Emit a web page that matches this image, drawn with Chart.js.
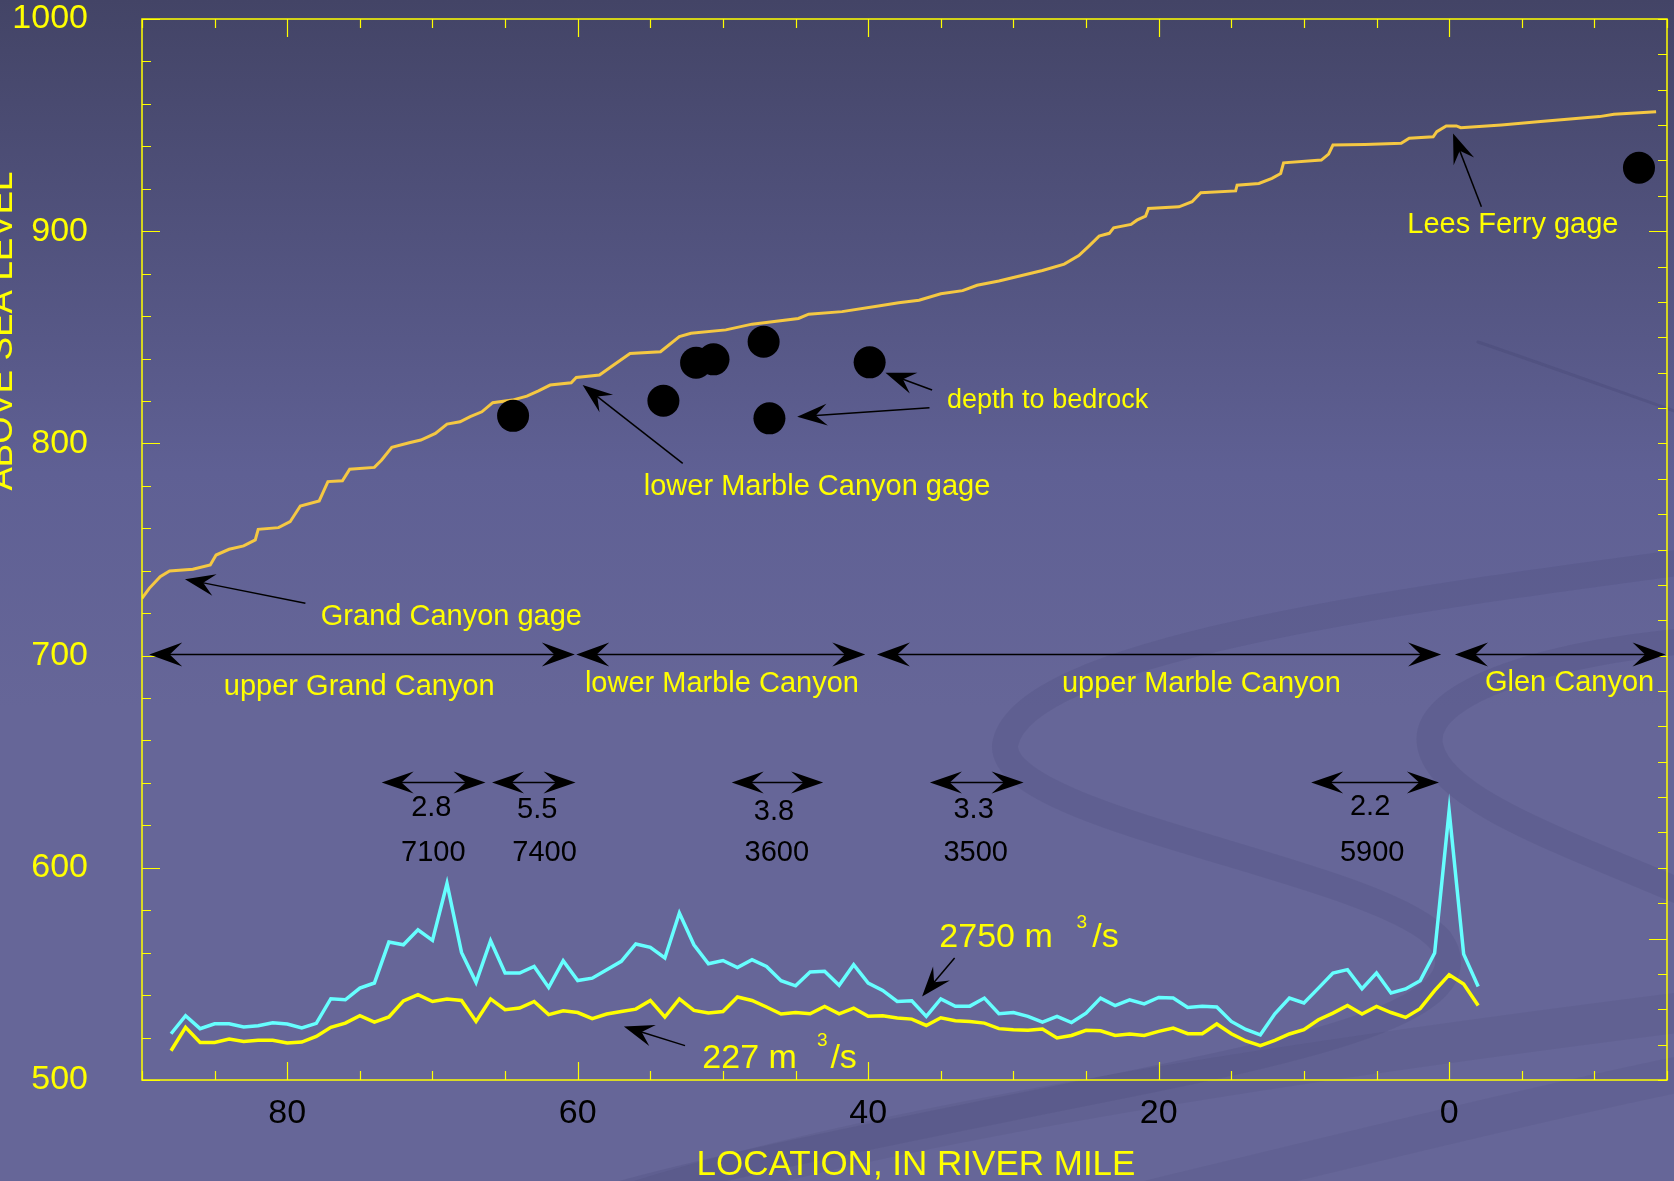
<!DOCTYPE html>
<html>
<head>
<meta charset="utf-8">
<script src="https://cdn.jsdelivr.net/npm/chart.js@4/dist/chart.umd.min.js"></script>
<style>
  html, body { margin: 0; padding: 0; background: #5c5d8e; }
  canvas { display: block; }
</style>
</head>
<body>
<canvas id="profile" width="1674" height="1181"></canvas>
<script>
// ---- Water-surface profile (river mile, elevation in m) ----
const profileMile = [90.0, 89.5, 88.75, 88.1, 86.5, 85.3, 84.9, 84.0, 83.0, 82.2, 82.0, 80.6, 79.8, 79.1, 77.8,
  77.2, 76.2, 75.7, 74.0, 73.5, 72.8, 71.6, 70.8, 69.8, 69.0, 68.1, 67.4, 66.6, 65.85, 64.5, 63.5, 62.7, 61.9,
  60.45, 60.1, 58.5, 57.7, 56.4, 54.3, 53.0, 52.2, 49.8, 48.0, 44.8, 44.1, 41.8, 39.3, 37.9, 36.5, 35.0, 33.5,
  32.5, 31.0, 29.5, 28.0, 26.5, 25.5, 24.8, 24.1, 23.4, 23.1, 21.9, 21.5, 20.9, 20.7, 18.6, 17.7, 17.1, 14.7,
  14.6, 13.1, 12.2, 11.6, 11.4, 8.8, 8.3, 8.0, 5.8, 3.3, 2.75, 1.1, 0.85, 0.2, -0.5, -0.8, -3.6, -6.1, -10.35,
  -11.35, -14.25];
const profileElev = [727.0, 731.7, 737.2, 739.9, 740.7, 742.7, 747.4, 750.1, 751.7, 754.5, 759.5, 760.3, 763.1,
  770.5, 772.9, 782.0, 782.4, 787.8, 788.7, 792.2, 798.2, 800.3, 801.6, 804.7, 809.1, 810.2, 812.6, 814.9, 819.2,
  820.4, 822.3, 824.8, 827.5, 828.6, 831.1, 832.2, 836.1, 842.4, 843.2, 850.3, 851.9, 853.5, 856.2, 858.9, 860.9,
  862.1, 864.7, 866.3, 867.5, 870.5, 872.0, 874.5, 876.5, 879.0, 881.5, 884.5, 888.5, 893.0, 897.7, 899.0, 901.6,
  903.2, 905.2, 907.1, 910.7, 911.5, 913.9, 918.1, 919.0, 921.7, 922.5, 924.9, 927.2, 932.2, 933.5, 936.3, 940.6,
  940.9, 941.4, 943.8, 944.5, 946.9, 949.6, 949.6, 948.8, 950.1, 951.6, 954.0, 955.1, 956.3];

// ---- Depth to bedrock (river mile, elevation in m) ----
const bedrockMile = [64.45, 54.1, 51.85, 50.65, 47.2, 46.8, 39.9, -13.07];
const bedrockElev = [813.0, 820.1, 838.0, 839.6, 847.9, 811.8, 838.2, 929.9];

// ---- Bed elevation at two discharges, one value per river mile ----
const flowMile = [88, 87, 86, 85, 84, 83, 82, 81, 80, 79, 78, 77, 76, 75, 74, 73, 72, 71, 70, 69, 68, 67, 66, 65,
  64, 63, 62, 61, 60, 59, 58, 57, 56, 55, 54, 53, 52, 51, 50, 49, 48, 47, 46, 45, 44, 43, 42, 41, 40, 39, 38, 37,
  36, 35, 34, 33, 32, 31, 30, 29, 28, 27, 26, 25, 24, 23, 22, 21, 20, 19, 18, 17, 16, 15, 14, 13, 12, 11, 10, 9,
  8, 7, 6, 5, 4, 3, 2, 1, 0, -1, -2];
const flow2750 = [521.8, 530.3, 524.2, 526.5, 526.5, 525.0, 525.6, 527.0, 526.4, 524.5, 526.7, 538.3, 537.8, 543.3,
  545.7, 565.0, 563.7, 570.8, 565.8, 592.6, 560.1, 546.0, 565.6, 550.4, 550.4, 553.5, 543.6, 556.2, 546.9, 548.0,
  552.0, 555.9, 564.1, 562.5, 557.5, 578.7, 563.7, 554.8, 556.3, 553.0, 556.7, 553.5, 546.8, 544.4, 550.9, 551.2,
  544.6, 554.3, 545.7, 542.2, 537.0, 537.3, 530.0, 538.2, 534.7, 534.8, 538.6, 531.2, 531.8, 530.0, 527.3, 530.0,
  527.1, 531.5, 538.6, 535.1, 537.8, 535.9, 538.9, 538.6, 534.2, 534.7, 534.4, 527.6, 523.8, 521.3, 531.2, 538.6,
  536.3, 543.3, 550.4, 552.0, 543.0, 550.4, 541.0, 542.9, 546.8, 559.8, 627.0, 559.3, 544.1];
const flow227 = [513.8, 524.8, 517.7, 517.7, 519.3, 518.2, 518.7, 518.7, 517.4, 517.9, 520.5, 524.8, 526.8, 530.3,
  527.3, 529.7, 537.3, 540.2, 537.0, 538.2, 537.5, 527.6, 538.2, 533.1, 533.9, 537.0, 530.8, 532.6, 531.8, 528.9,
  531.1, 532.3, 533.4, 537.5, 529.7, 538.2, 532.8, 531.6, 532.3, 539.1, 537.5, 534.4, 531.1, 531.8, 531.2, 534.7,
  531.2, 533.9, 530.0, 530.3, 529.2, 528.7, 525.7, 529.3, 527.9, 527.6, 526.8, 524.2, 523.7, 523.4, 524.0, 519.8,
  521.0, 523.4, 523.2, 521.0, 521.7, 521.0, 522.9, 524.5, 521.8, 521.8, 526.4, 521.8, 518.4, 516.2, 518.7, 521.7,
  523.7, 528.4, 531.5, 535.1, 531.1, 534.7, 531.8, 529.5, 533.6, 542.1, 549.6, 545.2, 535.1];

// ---- Reaches and measured sub-reaches (river miles) ----
const reachNames = ['upper Grand Canyon', 'lower Marble Canyon', 'upper Marble Canyon', 'Glen Canyon'];
const reachStart = [89.5, 60.1, 39.4, -0.4];
const reachEnd = [60.2, 40.2, 0.55, -14.9];
const subStart = [73.5, 65.9, 49.4, 35.75, 9.5];
const subEnd = [66.35, 60.15, 43.1, 29.3, 0.7];
const subLength = ['2.8', '5.5', '3.8', '3.3', '2.2'];
const subCount = ['7100', '7400', '3600', '3500', '5900'];

// ---- Axis tick labels ----
const xTickLabels = [80, 60, 40, 20, 0];
const yTickLabels = [500, 600, 700, 800, 900, 1000];

const FONT = "'Liberation Sans', Arial, Helvetica, sans-serif";
const YELLOW = '#ffff00';

const toPoints = (xs, ys) => xs.map((x, i) => ({ x: x, y: ys[i] }));

// Slide background: vertical gradient with soft darker swooshes
const backgroundPlugin = {
  id: 'slideBackground',
  beforeDraw(chart) {
    const { ctx, width, height } = chart;
    ctx.save();
    const g = ctx.createLinearGradient(0, 0, 0, height);
    g.addColorStop(0, '#434466');
    g.addColorStop(0.4, '#5f6094');
    g.addColorStop(0.6, '#666698');
    g.addColorStop(1, '#666698');
    ctx.fillStyle = g;
    ctx.fillRect(0, 0, width, height);

    ctx.lineCap = 'round';
    const band = (w, alpha, pts) => {
      ctx.strokeStyle = 'rgba(56, 56, 98, ' + alpha + ')';
      ctx.lineWidth = w;
      ctx.beginPath();
      ctx.moveTo(pts[0], pts[1]);
      for (let i = 2; i < pts.length; i += 6) {
        ctx.bezierCurveTo(pts[i], pts[i + 1], pts[i + 2], pts[i + 3], pts[i + 4], pts[i + 5]);
      }
      ctx.stroke();
    };
    // large S-shaped ribbon
    band(26, 0.13, [1700, 560, 1400, 600, 1020, 650, 1005, 745,
      1000, 820, 1380, 870, 1440, 940, 1490, 1010, 1300, 1050, 1100, 1090,
      900, 1130, 700, 1170, 600, 1200]);
    // loop on the right side
    band(26, 0.13, [1700, 640, 1560, 650, 1420, 690, 1430, 745, 1440, 800, 1560, 840, 1700, 900]);
    // lower diagonal bands
    band(40, 0.1, [640, 1200, 900, 1120, 1300, 1060, 1700, 1010]);
    band(36, 0.09, [1100, 1210, 1350, 1150, 1550, 1100, 1700, 1070]);
    // thin arc near the top right
    band(3, 0.2, [1478, 342, 1560, 370, 1620, 392, 1700, 420]);
    ctx.restore();
  }
};

// Frame on all four sides with inward tick marks
const framePlugin = {
  id: 'frame',
  afterDatasetsDraw(chart) {
    const { ctx, chartArea: a, scales: { x, y } } = chart;
    ctx.save();
    ctx.strokeStyle = YELLOW;
    ctx.lineWidth = 1.5;
    ctx.strokeRect(a.left, a.top, a.right - a.left, a.bottom - a.top);
    ctx.beginPath();
    for (let m = -15; m <= 90; m += 5) {
      const px = Math.round(x.getPixelForValue(m)) + 0.5;
      const len = m % 20 === 0 ? 18 : 9;
      ctx.moveTo(px, a.bottom); ctx.lineTo(px, a.bottom - len);
      ctx.moveTo(px, a.top); ctx.lineTo(px, a.top + len);
    }
    for (let v = 500; v <= 1000; v += 20) {
      const py = Math.round(y.getPixelForValue(v)) + 0.5;
      const len = v % 100 === 0 ? 18 : 9;
      ctx.moveTo(a.left, py); ctx.lineTo(a.left + len, py);
    }
    for (let k = 0; k <= 30; k++) {
      const py = Math.round(y.getPixelForValue(500 + k * 50 / 3)) + 0.5;
      const len = k % 20 === 4 ? 18 : 9;
      ctx.moveTo(a.right, py); ctx.lineTo(a.right - len, py);
    }
    ctx.lineWidth = 1.2;
    ctx.stroke();
    ctx.restore();
  }
};

function arrowHead(ctx, tx, ty, ang, len, half) {
  const c = Math.cos(ang), s = Math.sin(ang);
  const bx = tx - c * len, by = ty - s * len;
  const nx = tx - c * len * 0.62, ny = ty - s * len * 0.62;
  ctx.beginPath();
  ctx.moveTo(tx, ty);
  ctx.lineTo(bx - s * half, by + c * half);
  ctx.lineTo(nx, ny);
  ctx.lineTo(bx + s * half, by - c * half);
  ctx.closePath();
  ctx.fill();
}

function arrow(ctx, x0, y0, x1, y1, len, half) {
  const ang = Math.atan2(y1 - y0, x1 - x0);
  ctx.beginPath();
  ctx.moveTo(x0, y0);
  ctx.lineTo(x1 - Math.cos(ang) * len * 0.5, y1 - Math.sin(ang) * len * 0.5);
  ctx.stroke();
  arrowHead(ctx, x1, y1, ang, len, half);
}

function doubleArrow(ctx, x0, x1, yy, len, half) {
  ctx.beginPath();
  ctx.moveTo(x0 + len * 0.5, yy);
  ctx.lineTo(x1 - len * 0.5, yy);
  ctx.stroke();
  arrowHead(ctx, x0, yy, Math.PI, len, half);
  arrowHead(ctx, x1, yy, 0, len, half);
}

// Callout texts and arrows, positioned in data units (mile, elevation)
const callouts = [
  { text: 'Lees Ferry gage', m: 2.88, e: 899.1, size: 29, from: [-2.22, 911.5], to: [-0.27, 946.1] },
  { text: 'Grand Canyon gage', m: 77.69, e: 714.5, size: 29, from: [78.75, 724.7], to: [87.04, 736.0] },
  { text: 'lower Marble Canyon gage', m: 55.45, e: 775.7, size: 29, from: [52.77, 790.6], to: [59.66, 827.5] },
  { text: 'depth to bedrock', m: 34.57, e: 816.5, size: 27, from: [35.6, 825.2], to: [38.81, 833.3] },
  { text: '', from: [35.78, 816.8], to: [44.89, 812.6] }
];
const flowLabels = [
  { num: '2750 m', m: 35.1, e: 562.6, supM: 25.65, supE: 571.6, restM: 24.57, from: [34.05, 557.5], to: [36.29, 539.4] },
  { num: '227 m', m: 51.42, e: 505.65, supM: 43.53, supE: 515.8, restM: 42.6, from: [52.61, 516.2], to: [56.82, 525.2] }
];
const reachLabelMile = [75.04, 50.07, 17.06, -8.29];
const reachLabelElev = [681.5, 682.8, 682.8, 683.2];
const reachArrowElev = 700.6;
const subArrowElev = 640.3;
const subLengthMile = [70.08, 62.79, 46.49, 32.74, 5.44];
const subLengthElev = [628.2, 627.3, 626.3, 627.3, 628.7];
const subCountMile = [69.94, 62.28, 46.29, 32.6, 5.3];
const subCountElev = 607.0;

const annotationPlugin = {
  id: 'callouts',
  afterDraw(chart) {
    const { ctx, scales: { x, y } } = chart;
    const px = m => x.getPixelForValue(m);
    const py = e => y.getPixelForValue(e);
    ctx.save();
    ctx.fillStyle = '#000';
    ctx.strokeStyle = '#000';
    ctx.lineWidth = 1.5;

    callouts.forEach(c => {
      arrow(ctx, px(c.from[0]), py(c.from[1]), px(c.to[0]), py(c.to[1]), 30, 11);
    });
    flowLabels.forEach(f => {
      arrow(ctx, px(f.from[0]), py(f.from[1]), px(f.to[0]), py(f.to[1]), 30, 11);
    });
    reachStart.forEach((s, i) => {
      doubleArrow(ctx, px(s), px(reachEnd[i]), Math.round(py(reachArrowElev)) + 0.5, 33, 12);
    });
    subStart.forEach((s, i) => {
      doubleArrow(ctx, px(s), px(subEnd[i]), Math.round(py(subArrowElev)) + 0.5, 32, 11);
    });

    // texts
    ctx.textBaseline = 'alphabetic';
    ctx.textAlign = 'left';
    ctx.fillStyle = YELLOW;
    callouts.forEach(c => {
      if (!c.text) return;
      ctx.font = c.size + 'px ' + FONT;
      ctx.fillText(c.text, px(c.m), py(c.e));
    });
    flowLabels.forEach(f => {
      ctx.font = '34px ' + FONT;
      ctx.fillText(f.num, px(f.m), py(f.e));
      ctx.fillText('/s', px(f.restM), py(f.e));
      ctx.font = '19px ' + FONT;
      ctx.fillText('3', px(f.supM), py(f.supE));
    });
    ctx.textAlign = 'center';
    ctx.font = '29px ' + FONT;
    reachNames.forEach((n, i) => {
      ctx.fillText(n, px(reachLabelMile[i]), py(reachLabelElev[i]));
    });
    ctx.fillStyle = '#000';
    ctx.textBaseline = 'middle';
    subLength.forEach((t, i) => {
      ctx.fillText(t, px(subLengthMile[i]), py(subLengthElev[i]));
      ctx.fillText(subCount[i], px(subCountMile[i]), py(subCountElev));
    });

    // axis titles
    ctx.fillStyle = YELLOW;
    ctx.textBaseline = 'alphabetic';
    ctx.font = '35px ' + FONT;
    ctx.fillText('LOCATION, IN RIVER MILE', 916, 1175);
    ctx.translate(12, 331);
    ctx.rotate(-Math.PI / 2);
    ctx.fillText('ABOVE SEA LEVEL', 0, 0);
    ctx.restore();
  }
};

new Chart(document.getElementById('profile'), {
  type: 'scatter',
  data: {
    datasets: [
      { label: 'Water surface', data: toPoints(profileMile, profileElev), showLine: true,
        borderColor: '#f5c842', borderWidth: 3, pointRadius: 0, order: 4 },
      { label: '2750 m3/s', data: toPoints(flowMile, flow2750), showLine: true,
        borderColor: '#66ffff', borderWidth: 3.5, pointRadius: 0, order: 3 },
      { label: '227 m3/s', data: toPoints(flowMile, flow227), showLine: true,
        borderColor: '#ffff00', borderWidth: 3.5, pointRadius: 0, order: 2 },
      { label: 'Depth to bedrock', data: toPoints(bedrockMile, bedrockElev), showLine: false,
        pointRadius: 16, pointBackgroundColor: '#000', pointBorderWidth: 0, order: 1 }
    ]
  },
  options: {
    responsive: false,
    animation: false,
    devicePixelRatio: 1,
    layout: { autoPadding: false, padding: { top: 19, right: 7, left: 0, bottom: 0 } },
    plugins: { legend: { display: false }, tooltip: { enabled: false } },
    scales: {
      x: {
        type: 'linear', min: -15, max: 90, reverse: true,
        grid: { display: false, drawTicks: false }, border: { display: false },
        ticks: {
          stepSize: 5, autoSkip: false, maxRotation: 0, padding: 0, color: '#000',
          font: { family: FONT, size: 34, lineHeight: 1.95 },
          callback: v => xTickLabels.includes(Math.round(v)) ? String(Math.round(v)) : ''
        },
        afterFit(s) { s.height = 101; s.paddingLeft = 0; s.paddingRight = 0; }
      },
      y: {
        type: 'linear', min: 500, max: 1000,
        grid: { display: false, drawTicks: false }, border: { display: false },
        ticks: {
          stepSize: 20, autoSkip: false, padding: 54, color: YELLOW,
          font: { family: FONT, size: 34, lineHeight: 1 },
          callback: v => yTickLabels.includes(Math.round(v)) ? String(Math.round(v)) : ''
        },
        afterFit(s) { s.width = 142; s.paddingTop = 0; s.paddingBottom = 0; }
      }
    }
  },
  plugins: [backgroundPlugin, framePlugin, annotationPlugin]
});
</script>
</body>
</html>
